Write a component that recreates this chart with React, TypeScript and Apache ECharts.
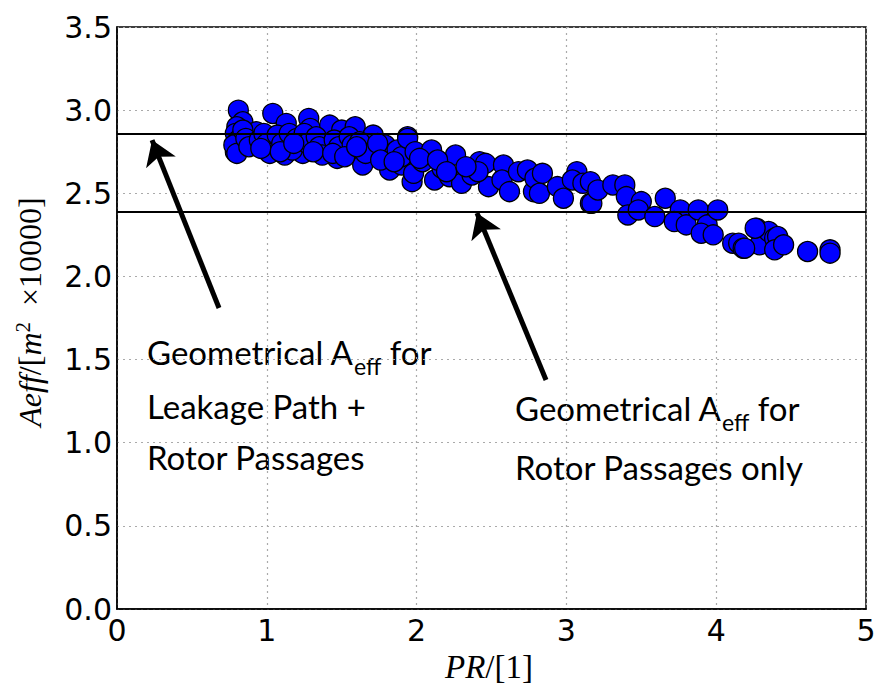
import React, { useEffect, useRef } from "react";
import * as echarts from "echarts";

const xTicks = [0, 1, 2, 3, 4, 5];
const yTicks = [0, 0.5, 1.0, 1.5, 2.0, 2.5, 3.0, 3.5];

const prValues = [
  0.81, 0.84, 0.79, 0.90, 0.93, 1.04, 1.03, 1.13, 1.12, 1.22, 1.24, 1.28, 1.29, 1.42, 1.39, 1.47, 1.50, 1.59, 1.54, 1.64,
  1.71, 1.69, 1.79, 1.84, 1.82, 1.94, 1.97, 1.90,
  0.80, 0.79, 0.81, 0.78, 0.80, 0.84, 0.86, 0.88, 0.95, 0.98, 1.00, 1.02, 1.07, 1.10, 1.15, 1.17, 1.20, 1.25, 1.27, 1.33,
  1.35, 1.37, 1.45, 1.48, 1.55, 1.57, 1.62, 1.66, 1.74, 1.76, 1.87, 1.90, 1.85,
  1.94, 1.99, 1.98, 2.04, 2.10, 2.12, 2.17, 2.26, 2.22, 2.30, 2.37, 2.42, 2.46, 2.48, 2.41, 2.58, 2.57, 2.62, 2.68, 2.74,
  2.78, 2.79, 2.84, 2.82, 2.94, 2.98, 3.07, 3.04, 3.11, 3.16, 3.16,
  3.17, 3.21, 3.31, 3.39, 3.40, 3.41, 3.50, 3.48, 3.59, 3.66, 3.76, 3.72, 3.80, 3.88, 3.94, 3.90, 4.01, 3.98, 4.11, 4.15,
  4.18, 4.27, 4.29, 4.35, 4.39,
  4.26, 4.41, 4.19, 4.39, 4.45, 4.61, 4.76, 4.76,
  0.96, 1.09, 1.18, 1.31, 1.44, 1.52, 1.60, 2.02, 2.14, 2.20, 2.33,
];
const aeffValues = [
  3.00, 2.93, 2.75, 2.79, 2.87, 2.98, 2.78, 2.92, 2.73, 2.79, 2.74, 2.95, 2.89, 2.91, 2.77, 2.71, 2.88, 2.90, 2.75, 2.67,
  2.85, 2.77, 2.79, 2.74, 2.64, 2.84, 2.57, 2.67,
  2.90, 2.86, 2.82, 2.79, 2.74, 2.88, 2.83, 2.78, 2.82, 2.86, 2.80, 2.74, 2.85, 2.80, 2.86, 2.76, 2.83, 2.86, 2.80, 2.84,
  2.78, 2.73, 2.82, 2.78, 2.84, 2.79, 2.81, 2.74, 2.80, 2.70, 2.76, 2.72, 2.69,
  2.83, 2.75, 2.62, 2.69, 2.76, 2.58, 2.65, 2.73, 2.60, 2.56, 2.61, 2.69, 2.68, 2.54, 2.63, 2.67, 2.58, 2.51, 2.63, 2.64,
  2.51, 2.59, 2.62, 2.50, 2.54, 2.47, 2.63, 2.58, 2.56, 2.57, 2.44,
  2.44, 2.52, 2.55, 2.55, 2.48, 2.37, 2.45, 2.40, 2.36, 2.47, 2.40, 2.33, 2.31, 2.40, 2.31, 2.26, 2.40, 2.25, 2.20, 2.20,
  2.17, 2.29, 2.19, 2.27, 2.23,
  2.29, 2.24, 2.17, 2.16, 2.19, 2.15, 2.16, 2.14,
  2.77, 2.75, 2.80, 2.75, 2.74, 2.72, 2.78, 2.71, 2.70, 2.63, 2.66,
];

const geometricLevels = [2.862, 2.393];

const arrowTails = [
  [0.681, 1.81],
  [2.864, 1.377],
];
const arrowHeads = [
  [0.234, 2.82],
  [2.403, 2.381],
];

export default function App() {
  const ref = useRef<HTMLDivElement>(null);

  useEffect(() => {
    if (!ref.current) return;
    const chart = echarts.init(ref.current, null, { renderer: "svg" });

    const points = prValues.map((x, i) => [x, aeffValues[i]]);
    const arrows = arrowTails.map((t, i) => ({ coords: [t, arrowHeads[i]] }));

    const annFont = "Lato, 'Open Sans', sans-serif";
    const richMain = {
      a: { fontSize: 33, fontFamily: annFont, color: "#000", verticalAlign: "top", lineHeight: 40 },
      s: { fontSize: 23, fontFamily: annFont, color: "#000", verticalAlign: "top", lineHeight: 28, padding: [19, 0, 0, 0] },
    };

    const option: any = {
      animation: false,
      backgroundColor: "#fff",
      grid: {
        left: 117,
        right: 16,
        top: 27,
        bottom: 82,
        show: true,
        borderColor: "#000",
        borderWidth: 1.5,
        backgroundColor: "transparent",
      },
      xAxis: {
        type: "value",
        min: 0,
        max: 5,
        interval: 1,
        axisLine: { show: true, onZero: false, lineStyle: { color: "#000", width: 1.5 } },
        axisTick: { show: false },
        axisLabel: {
          color: "#000",
          fontSize: 30,
          fontFamily: "'DejaVu Sans', sans-serif",
          margin: 6,
          formatter: (v: number) => (xTicks.includes(v) ? String(v) : ""),
        },
        splitLine: { show: true, lineStyle: { color: "#aaa", type: [2, 4], width: 1.2 } },
      },
      yAxis: {
        type: "value",
        min: 0,
        max: 3.5,
        interval: 0.5,
        axisLine: { show: true, onZero: false, lineStyle: { color: "#000", width: 1.5 } },
        axisTick: { show: false },
        axisLabel: {
          color: "#000",
          fontSize: 30,
          fontFamily: "'DejaVu Sans', sans-serif",
          margin: 5,
          formatter: (v: number) => (yTicks.some((t) => Math.abs(t - v) < 1e-9) ? v.toFixed(1) : ""),
        },
        splitLine: { show: true, lineStyle: { color: "#aaa", type: [2, 4], width: 1.2 } },
      },
      series: [
        {
          type: "scatter",
          data: points,
          symbol: "circle",
          symbolSize: 20,
          itemStyle: { color: "#0000ff", borderColor: "#000", borderWidth: 1.3, opacity: 1 },
          z: 2,
          markLine: {
            silent: true,
            symbol: ["none", "none"],
            label: { show: false },
            lineStyle: { color: "#000", width: 2, type: "solid" },
            data: geometricLevels.map((v) => ({ yAxis: v })),
            z: 5,
          },
        },
        {
          type: "lines",
          coordinateSystem: "cartesian2d",
          data: arrows,
          symbol: ["none", "arrow"],
          symbolSize: [17, 24],
          lineStyle: { color: "#000", width: 5, opacity: 1 },
          itemStyle: { color: "#000" },
          z: 6,
        },
      ],
      graphic: [
        {
          type: "text",
          x: 30,
          y: 312,
          rotation: Math.PI / 2,
          style: {
            text: "{i|Aeff}{n|/[}{i|m}{sup|2}{n|  ×10000]}",
            align: "center",
            verticalAlign: "middle",
            rich: {
              i: { fontSize: 32, fontFamily: "'Liberation Serif', serif", fontStyle: "italic", color: "#000" },
              n: { fontSize: 32, fontFamily: "'Liberation Serif', serif", color: "#000" },
              sup: { fontSize: 21, fontFamily: "'Liberation Serif', serif", color: "#000", verticalAlign: "top", padding: [0, 0, 14, 0] },
            },
          },
        },
        {
          type: "text",
          x: 489,
          y: 667,
          style: {
            text: "{i|PR}{n|/[1]}",
            align: "center",
            verticalAlign: "middle",
            rich: {
              i: { fontSize: 33, fontFamily: "'Liberation Serif', serif", fontStyle: "italic", color: "#000" },
              n: { fontSize: 33, fontFamily: "'Liberation Serif', serif", color: "#000" },
            },
          },
        },
        { type: "text", x: 147, y: 335, style: { text: "{a|Geometrical A}{s|eff}{a| for}", rich: richMain } },
        { type: "text", x: 147, y: 389, style: { text: "Leakage Path +", fontSize: 33, fontFamily: annFont, fill: "#000" } },
        { type: "text", x: 147, y: 440, style: { text: "Rotor Passages", fontSize: 33, fontFamily: annFont, fill: "#000" } },
        { type: "text", x: 515, y: 391, style: { text: "{a|Geometrical A}{s|eff}{a| for}", rich: richMain } },
        { type: "text", x: 515, y: 450, style: { text: "Rotor Passages only", fontSize: 33, fontFamily: annFont, fill: "#000" } },
      ],
    };

    chart.setOption(option);
    return () => chart.dispose();
  }, []);

  return (
    <div
      ref={ref}
      style={{ position: "fixed", left: 0, top: 0, width: 882, height: 691 }}
    />
  );
}
